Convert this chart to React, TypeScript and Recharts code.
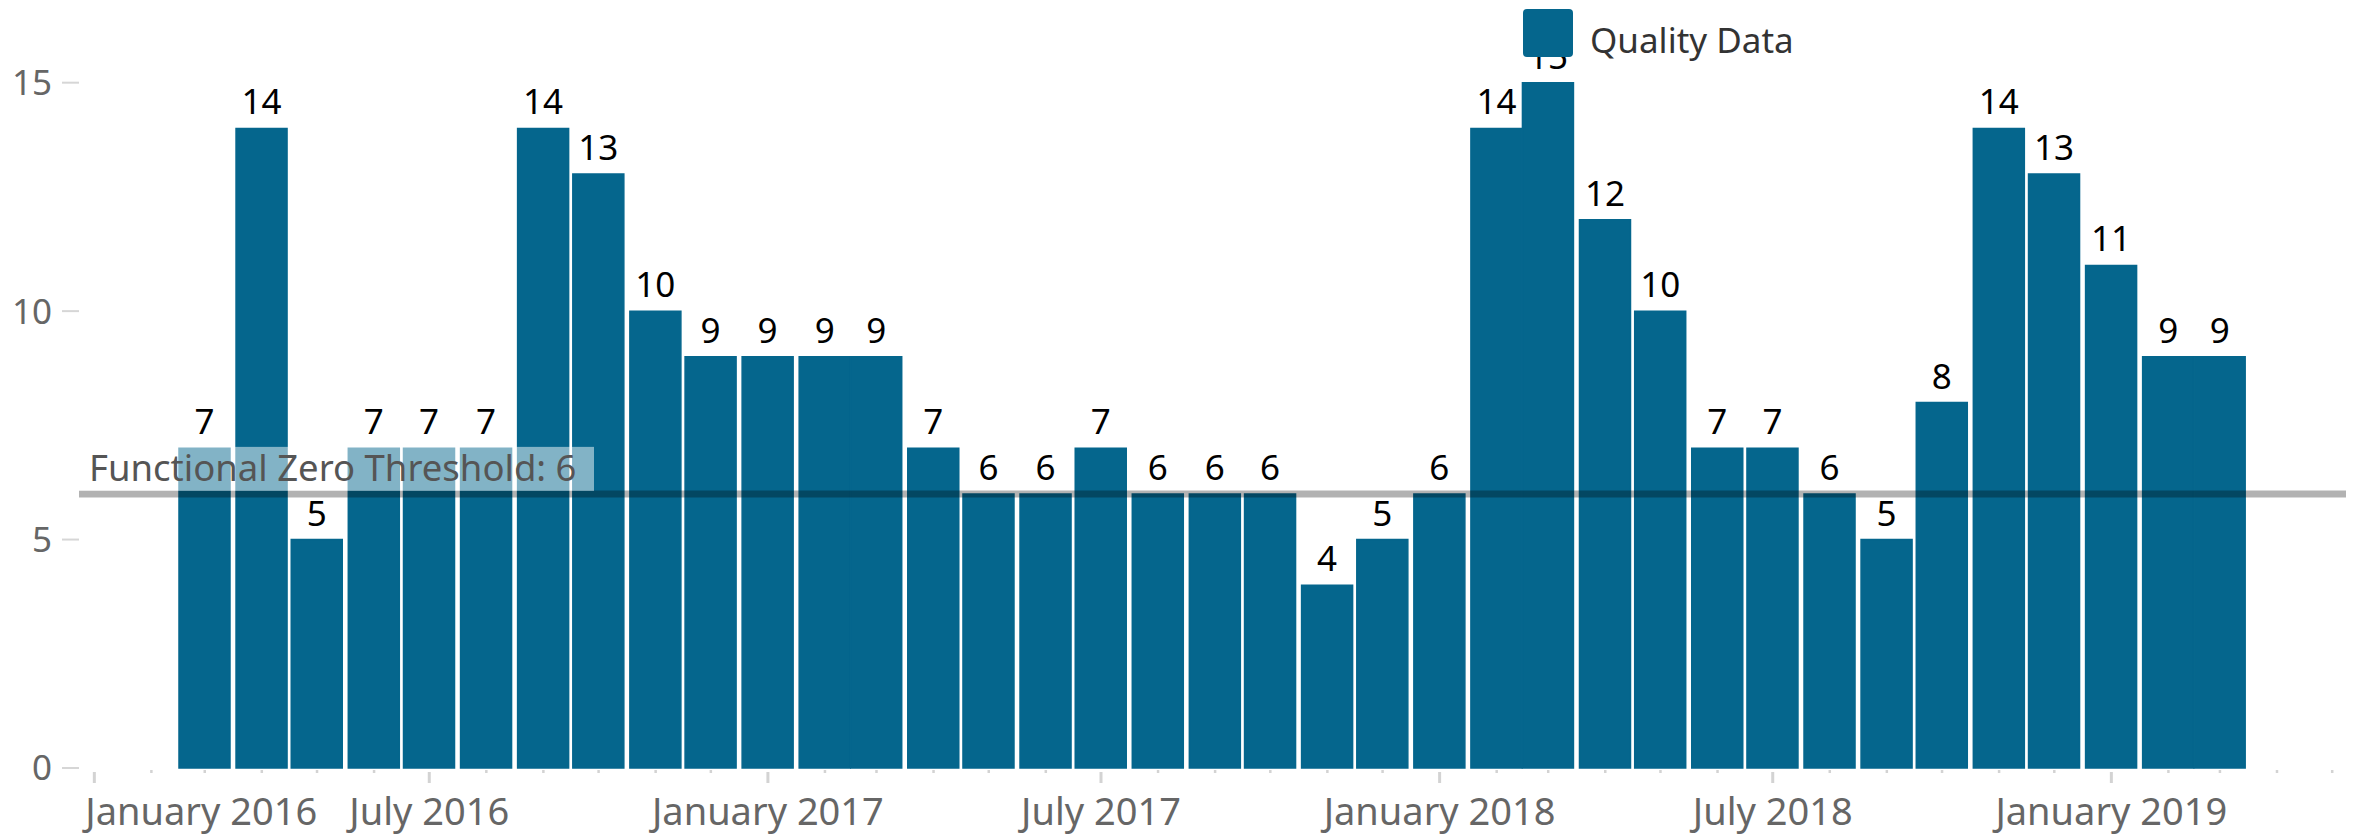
import { Bar, BarChart, LabelList, Legend, ReferenceLine, XAxis, YAxis } from "recharts";

const FONT = "'Noto Sans', sans-serif";
const BAR_COLOR = "#05668d";

// monthly quality data points, March 2016 .. March 2019
const months = [
  "2016-03", "2016-04", "2016-05", "2016-06", "2016-07", "2016-08", "2016-09", "2016-10", "2016-11", "2016-12",
  "2017-01", "2017-02", "2017-03", "2017-04", "2017-05", "2017-06", "2017-07", "2017-08", "2017-09", "2017-10",
  "2017-11", "2017-12", "2018-01", "2018-02", "2018-03", "2018-04", "2018-05", "2018-06", "2018-07", "2018-08",
  "2018-09", "2018-10", "2018-11", "2018-12", "2019-01", "2019-02", "2019-03",
];
const qualityData = [
  7, 14, 5, 7, 7, 7, 14, 13, 10, 9,
  9, 9, 9, 7, 6, 6, 7, 6, 6, 6,
  4, 5, 6, 14, 15, 12, 10, 7, 7, 6,
  5, 8, 14, 13, 11, 9, 9,
];

// month ticks on the time axis; January and July get a label
const axisMonths = [
  "2016-01", "2016-02", "2016-03", "2016-04", "2016-05", "2016-06", "2016-07", "2016-08", "2016-09", "2016-10",
  "2016-11", "2016-12", "2017-01", "2017-02", "2017-03", "2017-04", "2017-05", "2017-06", "2017-07", "2017-08",
  "2017-09", "2017-10", "2017-11", "2017-12", "2018-01", "2018-02", "2018-03", "2018-04", "2018-05", "2018-06",
  "2018-07", "2018-08", "2018-09", "2018-10", "2018-11", "2018-12", "2019-01", "2019-02", "2019-03", "2019-04",
  "2019-05",
];
const monthNames = [
  "January", "February", "March", "April", "May", "June",
  "July", "August", "September", "October", "November", "December",
];
const yTicks = [0, 5, 10, 15];
const threshold = 6;
const thresholdLabel = "Functional Zero Threshold: 6";
const seriesName = "Quality Data";
const xDomain = [Date.UTC(2015, 11, 23, 16), Date.UTC(2019, 4, 8, 12)];

const toTime = (s: string) => Date.UTC(Number(s.slice(0, 4)), Number(s.slice(5, 7)) - 1, 1);

const data = months.map((m, i) => ({ t: toTime(m), value: qualityData[i] }));
const xTicks = axisMonths.map(toTime);

function MonthTick({ x, y, payload, index }: any) {
  const d = new Date(payload.value);
  const m = d.getUTCMonth();
  const major = m === 0 || m === 6;
  const first = index === 0;
  return (
    <g>
      <line
        x1={x}
        x2={x}
        y1={y + (major ? 4 : 2)}
        y2={y + (major ? 15 : 5)}
        stroke="#d3d3d3"
        strokeWidth={major ? 3 : 2.5}
      />
      {major && (
        <text
          x={first ? x - 9 : x}
          y={y + 57}
          textAnchor={first ? "start" : "middle"}
          fill="#666"
          fontSize={38}
          fontFamily={FONT}
        >
          {`${monthNames[m]} ${d.getUTCFullYear()}`}
        </text>
      )}
    </g>
  );
}

function ThresholdLabel({ viewBox }: any) {
  const { x, y } = viewBox;
  return (
    <g>
      <rect x={x} y={y - 47} width={515} height={44} fill="#fff" fillOpacity={0.5} />
      <text x={x + 10} y={y - 13} fill="#555" fontSize={36.5} fontFamily={FONT}>
        {thresholdLabel}
      </text>
    </g>
  );
}

function LegendContent() {
  return (
    <div style={{ display: "flex", alignItems: "flex-start", paddingLeft: 1523, fontFamily: FONT }}>
      <div style={{ width: 50, height: 48, marginTop: 9, background: BAR_COLOR, borderRadius: 4 }} />
      <span style={{ marginLeft: 17, marginTop: 22, fontSize: 35, lineHeight: "35px", color: "#333" }}>
        {seriesName}
      </span>
    </div>
  );
}

export default function App() {
  return (
    <div style={{ position: "absolute", left: 0, top: 0, background: "#fff" }}>
      <BarChart width={2364} height={835} data={data} margin={{ top: 37, right: 18, left: 0, bottom: 7 }}>
        <XAxis
          dataKey="t"
          type="number"
          domain={xDomain}
          allowDataOverflow
          ticks={xTicks}
          interval={0}
          axisLine={false}
          tickLine={false}
          tickSize={0}
          tickMargin={0}
          height={60}
          tick={<MonthTick />}
        />
        <YAxis
          type="number"
          domain={[0, 16]}
          ticks={yTicks}
          interval={0}
          width={79}
          axisLine={false}
          tickLine={{ stroke: "#d6d6d6", strokeWidth: 2 }}
          tickSize={17}
          tickMargin={10}
          tick={{ fill: "#666", fontSize: 35, fontFamily: FONT }}
        />
        <Legend
          layout="horizontal"
          verticalAlign="middle"
          align="center"
          wrapperStyle={{ top: 0, left: 0, width: 2364, height: 70 }}
          content={<LegendContent />}
        />
        <Bar
          dataKey="value"
          name={seriesName}
          fill={BAR_COLOR}
          stroke={BAR_COLOR}
          strokeWidth={1.5}
          barSize={51}
          isAnimationActive={false}
        >
          <LabelList dataKey="value" position="top" offset={14} fill="#000" fontSize={35} fontFamily={FONT} />
        </Bar>
        <ReferenceLine
          y={threshold}
          stroke="#000"
          strokeOpacity={0.3}
          strokeWidth={7}
          label={<ThresholdLabel />}
        />
      </BarChart>
    </div>
  );
}
